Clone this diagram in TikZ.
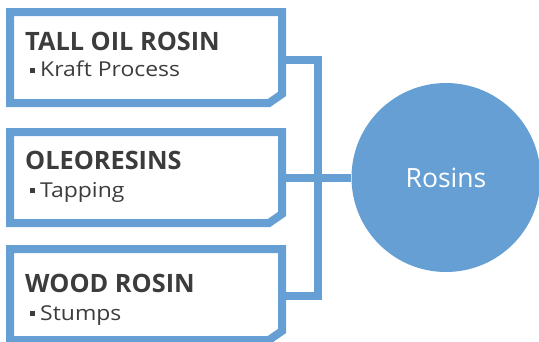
\documentclass[tikz,border=0pt]{standalone}
\usepackage{fontspec}
\setmainfont{Open Sans}
\newfontfamily\itemfont[FakeStretch=1.12]{Open Sans}
\usetikzlibrary{positioning}
\definecolor{rosinblue}{RGB}{102,159,212}
\definecolor{textgray}{RGB}{60,60,60}
\newcommand{\sqbullet}{\rule[4pt]{5pt}{5pt}\hspace{5pt}}

\begin{document}
\begin{tikzpicture}[
        x=1pt, y=-1pt,
        source/.style={rectangle, minimum width=272pt, minimum height=91pt, inner sep=0pt, outer sep=0pt},
        frame/.style={draw=rosinblue, line width=8pt},
        title/.style={anchor=base west, inner sep=0pt, text=textgray, font=\bfseries\fontsize{25.3}{30}\selectfont},
        item/.style={anchor=base west, inner sep=0pt, text=textgray, font=\itemfont\fontsize{20.5}{24}\selectfont},
        link/.style={draw=rosinblue, line width=8pt}
        ]
        \useasboundingbox (0,0) rectangle (539,341);

        % Source boxes
        \node[source] (tall) at (146,57.5) {};
        \node[source] (oleo) at (146,177.5) {};
        \node[source] (wood) at (146,294.5) {};
        \foreach \b in {tall,oleo,wood}
            \draw[frame] (\b.north west) -- (\b.north east) -- ([yshift=9pt]\b.south east)
                -- ([xshift=-13pt]\b.south east) -- (\b.south west) -- cycle;

        % Product
        \node[circle, fill=rosinblue, minimum size=189pt, inner sep=0pt, text=white,
            font=\fontsize{26.5}{30}\selectfont] (rosins) at (446,177.5) {Rosins};

        % Labels
        \node[title] (tallname) at (25,50) {TALL OIL ROSIN};
        \node[item] (tallitem) at (30,76.5) {\sqbullet Kraft Process};
        \node[title] (oleoname) at (25,169) {OLEORESINS};
        \node[item] (oleoitem) at (30,197) {\sqbullet Tapping};
        \node[title] (woodname) at (25,292.5) {WOOD ROSIN};
        \node[item] (wooditem) at (30,320) {\sqbullet Stumps};

        % Connectors
        \coordinate (jtop) at (317.5,60);
        \coordinate (jbot) at (317.5,295.5);
        \draw[link] (tall.east |- jtop) -- (jtop) -- (jbot) -- (wood.east |- jbot);
        \draw[link] (oleo.east) -- (rosins.west);
\end{tikzpicture}
\end{document}
